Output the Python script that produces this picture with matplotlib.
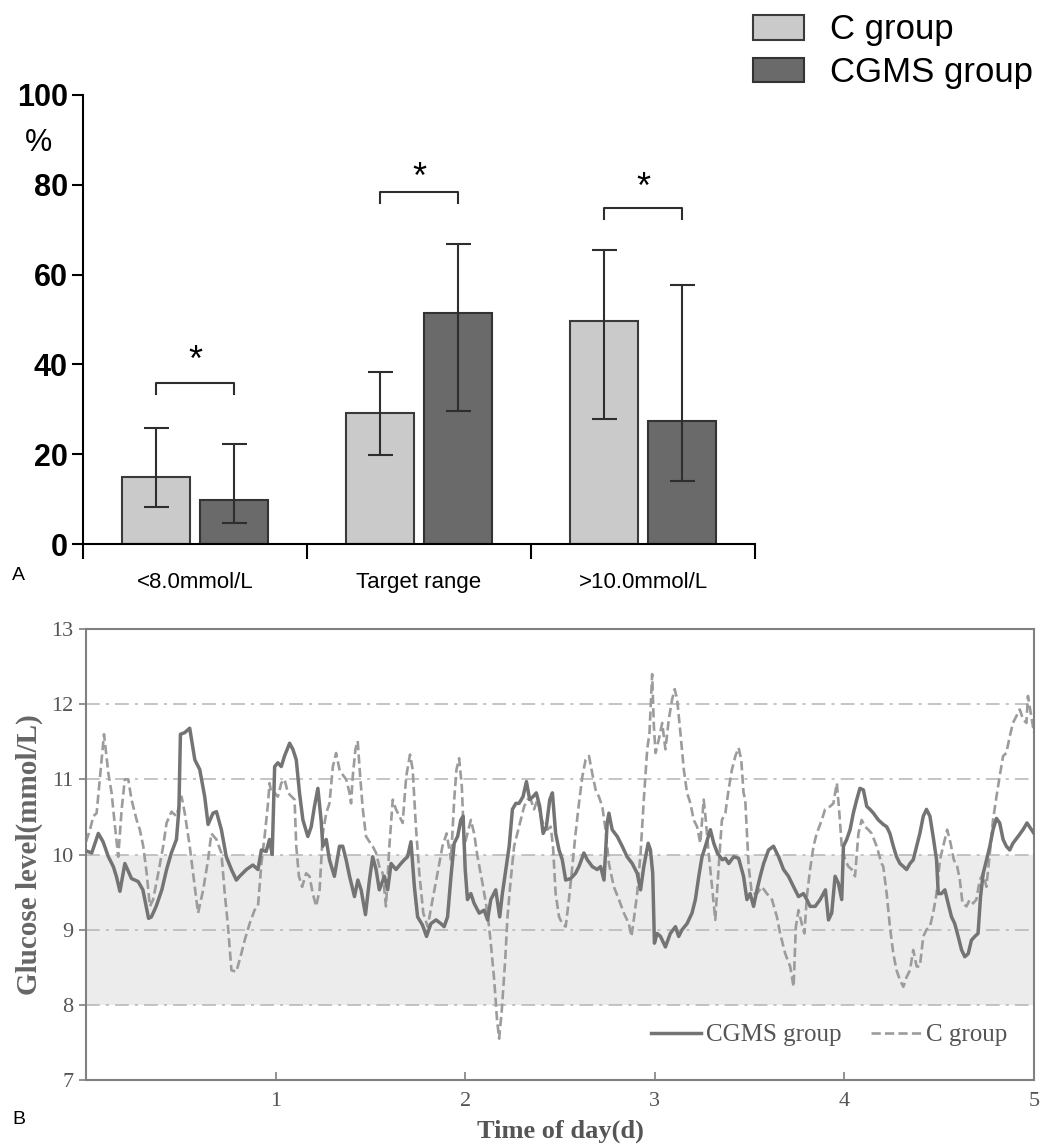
import numpy as np
import matplotlib
matplotlib.use('Agg')
import matplotlib.pyplot as plt
from matplotlib.patches import Patch
from matplotlib.lines import Line2D

# ---- panel A data (percent of time) ----
cats = ['<8.0mmol/L', 'Target range', '>10.0mmol/L']
c_mean = [14.9, 29.1, 49.7]
c_low = [8.3, 19.9, 27.9]
c_high = [25.9, 38.4, 65.4]
cgms_mean = [9.7, 51.4, 27.3]
cgms_low = [4.7, 29.7, 14.0]
cgms_high = [22.2, 66.9, 57.6]
bracket_y = [35.9, 78.3, 74.8]
star_y = [40.7, 81.4, 79.1]

# ---- panel B data (glucose, mmol/L) ----
cgms_day = [0, 0.03, 0.065, 0.09, 0.118, 0.144, 0.16, 0.179, 0.205, 0.24, 0.275, 0.30, 0.33, 0.345, 0.37, 0.40, 0.425, 0.45, 0.477, 0.49, 0.498, 0.52, 0.547, 0.574, 0.60, 0.626, 0.644, 0.67, 0.688, 0.714, 0.74, 0.767, 0.793,
            0.81, 0.846, 0.88, 0.907, 0.925, 0.95, 0.968, 0.982, 0.995, 1.012, 1.03, 1.047, 1.074, 1.091, 1.109, 1.126, 1.144, 1.17, 1.188, 1.205, 1.223, 1.24, 1.249, 1.267, 1.284, 1.31, 1.337, 1.354, 1.372, 1.39, 1.416, 1.434, 1.451, 1.474, 1.495, 1.512, 1.53, 1.547, 1.574, 1.591, 1.609, 1.635, 1.661,
            1.679, 1.696, 1.714, 1.732, 1.749, 1.775, 1.796, 1.819, 1.846, 1.872, 1.889, 1.907, 1.925, 1.942, 1.96, 1.977, 1.989, 2.0, 2.012, 2.03, 2.047, 2.074, 2.1, 2.118, 2.135, 2.161, 2.182, 2.196, 2.214, 2.232, 2.249, 2.267, 2.284, 2.305, 2.323, 2.34, 2.358, 2.375, 2.393, 2.411, 2.428, 2.446, 2.46, 2.477, 2.495, 2.512,
            2.53, 2.556, 2.582, 2.6, 2.626, 2.644, 2.67, 2.696, 2.714, 2.732, 2.749, 2.758, 2.775, 2.802, 2.828, 2.854, 2.881, 2.907, 2.925, 2.942, 2.965, 2.977, 2.989, 2.998, 3.012, 3.03, 3.056, 3.082, 3.109, 3.126, 3.144, 3.17, 3.196, 3.214, 3.232, 3.249, 3.267, 3.293, 3.311, 3.33, 3.356,
            3.372, 3.39, 3.416, 3.442, 3.468, 3.486, 3.503, 3.521, 3.539, 3.556, 3.574, 3.6, 3.626, 3.653, 3.679, 3.705, 3.732, 3.758, 3.784, 3.802, 3.819, 3.846, 3.872, 3.9, 3.916, 3.933, 3.951, 3.968, 3.986, 3.995, 4.012, 4.03, 4.047, 4.065, 4.082, 4.1, 4.118, 4.135, 4.153, 4.179, 4.205,
            4.223, 4.24, 4.258, 4.275, 4.293, 4.311, 4.328, 4.346, 4.363, 4.381, 4.398, 4.416, 4.433, 4.451, 4.468, 4.486, 4.495, 4.512, 4.53, 4.547, 4.565, 4.582, 4.6, 4.618, 4.635, 4.653, 4.67, 4.688, 4.705, 4.718, 4.732, 4.75, 4.767, 4.784, 4.802, 4.819, 4.837, 4.854, 4.872, 4.889, 4.916, 4.942, 4.963, 5.0]
cgms_glu = [10.05, 10.02, 10.28, 10.17, 9.97, 9.84, 9.71, 9.51, 9.88, 9.68, 9.64, 9.53, 9.15, 9.17, 9.31, 9.53, 9.80, 10.02, 10.20, 10.6, 11.6, 11.62, 11.68, 11.26, 11.13, 10.77, 10.40, 10.55, 10.57, 10.33, 9.97, 9.80, 9.66,
            9.71, 9.80, 9.86, 9.80, 10.06, 10.04, 10.20, 10.0, 11.17, 11.22, 11.17, 11.31, 11.48, 11.40, 11.26, 10.82, 10.46, 10.24, 10.37, 10.64, 10.88, 10.46, 10.11, 10.20, 9.93, 9.71, 10.11, 10.11, 9.93, 9.71, 9.44, 9.66, 9.53, 9.20, 9.66, 9.97, 9.80, 9.53, 9.71, 9.53, 9.88, 9.80, 9.88,
            9.93, 9.97, 10.17, 9.57, 9.17, 9.06, 8.91, 9.08, 9.13, 9.08, 9.04, 9.17, 9.71, 10.15, 10.24, 10.46, 10.51, 9.80, 9.40, 9.48, 9.35, 9.22, 9.26, 9.13, 9.40, 9.53, 9.17, 9.48, 9.80, 10.11, 10.60, 10.68, 10.68, 10.77, 10.97, 10.73, 10.77, 10.82, 10.64, 10.28, 10.37, 10.73, 10.82, 10.28, 10.06, 9.93,
            9.66, 9.68, 9.75, 9.84, 10.02, 9.93, 9.84, 9.80, 9.84, 9.66, 10.42, 10.55, 10.33, 10.24, 10.11, 9.97, 9.88, 9.75, 9.53, 9.84, 10.15, 10.06, 9.75, 8.82, 8.95, 8.91, 8.77, 8.95, 9.04, 8.91, 9.00, 9.08, 9.22, 9.40, 9.71, 9.97, 10.11, 10.33, 10.15, 10.02, 9.93,
            9.95, 9.88, 9.97, 9.95, 9.71, 9.40, 9.48, 9.31, 9.53, 9.71, 9.88, 10.06, 10.11, 9.97, 9.80, 9.71, 9.57, 9.44, 9.48, 9.40, 9.31, 9.31, 9.40, 9.53, 9.13, 9.22, 9.71, 9.62, 9.40, 10.11, 10.20, 10.33, 10.55, 10.73, 10.88, 10.86, 10.64, 10.60, 10.55, 10.46, 10.40,
            10.37, 10.28, 10.11, 9.97, 9.88, 9.84, 9.80, 9.88, 9.93, 10.11, 10.28, 10.51, 10.60, 10.51, 10.24, 9.93, 9.48, 9.48, 9.53, 9.35, 9.17, 9.08, 8.91, 8.73, 8.64, 8.68, 8.86, 8.91, 8.95, 9.44, 9.75, 9.93, 10.11, 10.33, 10.48, 10.42, 10.20, 10.11, 10.06, 10.15, 10.24, 10.33, 10.42, 10.28]

c_day = [0, 0.021, 0.039, 0.056, 0.074, 0.095, 0.118, 0.135, 0.153, 0.17, 0.188, 0.205, 0.223, 0.24, 0.267, 0.284, 0.302, 0.32, 0.337, 0.354, 0.381, 0.407, 0.425, 0.451, 0.477, 0.504, 0.521, 0.547, 0.574, 0.591, 0.618, 0.644, 0.661, 0.688, 0.714, 0.732, 0.749, 0.767, 0.793, 0.819, 0.837,
         0.863, 0.889, 0.907, 0.925, 0.942, 0.96, 0.968, 0.977, 0.995, 1.012, 1.03, 1.047, 1.065, 1.084, 1.1, 1.109, 1.123, 1.14, 1.161, 1.179, 1.196, 1.214, 1.232, 1.249, 1.267, 1.284, 1.302, 1.319, 1.337, 1.354, 1.372, 1.39, 1.398, 1.407, 1.421, 1.433, 1.446, 1.46, 1.477, 1.495, 1.512, 1.53, 1.547, 1.565, 1.582, 1.6, 1.618, 1.635, 1.653, 1.67,
         1.689, 1.709, 1.723, 1.74, 1.758, 1.779, 1.802, 1.828, 1.854, 1.88, 1.902, 1.925, 1.942, 1.954, 1.968, 1.982, 1.995, 2.012, 2.03, 2.047, 2.065, 2.091, 2.118, 2.135, 2.153, 2.168, 2.179, 2.193, 2.211, 2.223, 2.24, 2.258, 2.275, 2.293, 2.311, 2.328, 2.346, 2.363, 2.381, 2.398, 2.416, 2.433, 2.451, 2.463, 2.477, 2.495, 2.512,
         2.53, 2.547, 2.565, 2.582, 2.6, 2.618, 2.635, 2.653, 2.67, 2.688, 2.705, 2.723, 2.74, 2.758, 2.784, 2.811, 2.837, 2.863, 2.877, 2.889, 2.907, 2.925, 2.942, 2.96, 2.972, 2.986, 2.995, 3.004, 3.021, 3.039, 3.056, 3.074, 3.091, 3.105, 3.118, 3.135, 3.153, 3.17, 3.188, 3.205, 3.223, 3.24, 3.258, 3.267, 3.284, 3.302, 3.319, 3.337, 3.354,
         3.372, 3.389, 3.407, 3.425, 3.442, 3.456, 3.468, 3.477, 3.486, 3.495, 3.512, 3.539, 3.565, 3.591, 3.618, 3.644, 3.661, 3.688, 3.714, 3.732, 3.744, 3.758, 3.775, 3.789, 3.802, 3.819, 3.837, 3.854, 3.881, 3.898, 3.925, 3.942, 3.96, 3.972, 3.986, 4.004, 4.021, 4.039, 4.056, 4.074, 4.091, 4.109, 4.126, 4.144, 4.17, 4.196,
         4.205, 4.223, 4.24, 4.258, 4.275, 4.293, 4.311, 4.328, 4.346, 4.363, 4.381, 4.398, 4.416, 4.433, 4.451, 4.468, 4.486, 4.504, 4.521, 4.542, 4.56, 4.577, 4.595, 4.609, 4.623, 4.644, 4.661, 4.679, 4.696, 4.714, 4.732, 4.749, 4.767, 4.784, 4.802, 4.819, 4.837, 4.854, 4.872, 4.889, 4.907, 4.925, 4.942, 4.96, 4.968, 5.0]
c_glu = [10.17, 10.33, 10.51, 10.55, 11.04, 11.60, 11.08, 10.82, 10.37, 9.97, 10.60, 11.00, 11.00, 10.73, 10.46, 10.33, 10.11, 9.75, 9.31, 9.40, 9.75, 10.11, 10.42, 10.57, 10.51, 10.77, 10.55, 10.11, 9.57, 9.22, 9.53, 9.93, 10.28, 10.20, 10.02, 9.48, 9.04, 8.46, 8.44, 8.68, 8.86,
         9.08, 9.26, 9.31, 9.88, 10.24, 10.68, 10.95, 10.82, 10.82, 10.77, 10.95, 11.00, 10.82, 10.77, 10.73, 10.11, 9.71, 9.57, 9.75, 9.71, 9.48, 9.31, 9.53, 10.28, 10.55, 10.68, 11.17, 11.35, 11.13, 11.06, 11.00, 10.82, 10.68, 11.04, 11.40, 11.51, 11.04, 10.60, 10.24, 10.17, 10.11, 10.02, 9.84, 9.75, 9.31, 10.11, 10.73, 10.60, 10.51, 10.42,
         11.04, 11.33, 11.13, 10.37, 9.75, 9.22, 9.04, 9.40, 9.75, 10.11, 10.28, 9.93, 10.73, 11.13, 11.28, 10.91, 10.11, 10.28, 10.46, 10.28, 9.97, 9.62, 9.22, 8.82, 8.33, 7.80, 7.55, 7.93, 8.60, 9.17, 9.66, 10.11, 10.28, 10.46, 10.64, 10.73, 10.73, 10.60, 10.73, 10.51, 10.37, 10.33, 10.37, 10.11, 9.48, 9.17, 9.08,
         9.04, 9.40, 9.84, 10.28, 10.68, 11.04, 11.26, 11.31, 11.08, 10.86, 10.77, 10.64, 10.33, 9.88, 9.57, 9.40, 9.22, 9.08, 8.91, 9.13, 9.48, 10.02, 10.73, 11.40, 11.62, 12.40, 11.71, 11.35, 11.53, 11.75, 11.40, 11.80, 12.06, 12.20, 12.06, 11.62, 11.13, 10.82, 10.68, 10.46, 10.37, 10.15, 10.73, 10.51, 10.02, 9.57, 9.13, 9.84, 10.46,
         10.55, 10.86, 11.13, 11.31, 11.42, 11.26, 10.82, 10.73, 10.28, 9.84, 9.48, 9.48, 9.57, 9.48, 9.40, 9.17, 8.95, 8.68, 8.51, 8.24, 9.04, 9.26, 9.08, 8.95, 9.44, 9.80, 10.11, 10.28, 10.46, 10.60, 10.64, 10.68, 10.95, 10.60, 10.11, 9.93, 9.84, 9.80, 9.71, 10.28, 10.46, 10.37, 10.33, 10.28, 10.11, 9.88,
         9.84, 9.48, 9.04, 8.68, 8.46, 8.33, 8.24, 8.37, 8.46, 8.73, 8.51, 8.51, 8.91, 9.00, 9.04, 9.22, 9.48, 9.93, 10.11, 10.33, 10.15, 9.93, 9.84, 9.66, 9.35, 9.31, 9.40, 9.35, 9.40, 9.66, 9.75, 9.57, 10.02, 10.46, 10.77, 11.04, 11.31, 11.35, 11.57, 11.75, 11.84, 11.93, 11.80, 11.75, 12.11, 11.62]

W, H = 1043, 1147
fig = plt.figure(figsize=(W / 100, H / 100), dpi=100)

# ================= panel A =================
sans = 'Liberation Sans'
axA = fig.add_axes([83 / W, 1 - 544 / H, 672 / W, 449 / H])
x = np.arange(len(cats))
off, bw = 0.174, 0.305
ekw = dict(ecolor='#2e2e2e', elinewidth=1.5, capsize=9, capthick=1.5)
axA.bar(x - off, c_mean, bw, color='#cacaca', edgecolor='#3a3a3a', lw=1.5,
        yerr=[np.subtract(c_mean, c_low), np.subtract(c_high, c_mean)], error_kw=ekw)
axA.bar(x + off, cgms_mean, bw, color='#6a6a6a', edgecolor='#333333', lw=1.5,
        yerr=[np.subtract(cgms_mean, cgms_low), np.subtract(cgms_high, cgms_mean)], error_kw=ekw)

# significance brackets with stars above them
for i in range(len(cats)):
    yb = bracket_y[i]
    axA.plot([i - off, i - off, i + off, i + off], [yb - 2.4, yb, yb, yb - 2.4],
             color='#2e2e2e', lw=1.5, clip_on=False)
    axA.text(i, star_y[i], '*', ha='center', va='center', fontsize=26, family=sans)
    axA.text(i, -8.6, cats[i], ha='center', va='center', fontsize=16, family=sans)

axA.set_xlim(-0.5, 2.5)
axA.set_ylim(0, 100)
axA.spines['top'].set_visible(False)
axA.spines['right'].set_visible(False)
for s in ['left', 'bottom']:
    axA.spines[s].set_linewidth(1.5)
axA.set_xticks([-0.5, 0.5, 1.5, 2.5])
axA.set_xticklabels([])
axA.tick_params(axis='x', direction='out', length=11, width=1.5)
axA.set_yticks(range(0, 101, 20))
axA.set_yticklabels([str(v) for v in range(0, 101, 20)], fontsize=22,
                    fontweight='bold', family=sans)
axA.tick_params(axis='y', direction='out', length=8, width=1.5, pad=3)
fig.text(38 / W, 1 - 143 / H, '%', fontsize=22, family=sans, ha='center', va='center')

fig.legend(handles=[Patch(fc='#cacaca', ec='#3a3a3a', lw=1.5),
                    Patch(fc='#6a6a6a', ec='#333333', lw=1.5)],
           labels=['C group', 'CGMS group'], loc='upper left',
           bbox_to_anchor=(736 / W, 1 + 4 / H), frameon=False,
           prop={'family': sans, 'size': 25}, handlelength=1.45, handleheight=0.72,
           handletextpad=0.75, labelspacing=0.28, borderpad=0)

fig.text(12 / W, 1 - 575 / H, 'A', fontsize=14, family=sans, va='center')

# ================= panel B =================
serif = 'Liberation Serif'
gray = '#808080'
axB = fig.add_axes([86 / W, 1 - 1080 / H, 948 / W, 451 / H])
axB.axhspan(8, 10, color='#ececec', lw=0, zorder=0)
for g in [8, 9, 10, 11, 12]:
    axB.axhline(g, color='#b4b4b4', lw=1.1, ls=(0, (9, 4, 2, 4)), zorder=1)
axB.plot(cgms_day, cgms_glu, color='#747474', lw=2.5, zorder=3)
axB.plot(c_day, c_glu, color='#9c9c9c', lw=1.9, ls=(0, (3.5, 1.6)), zorder=2)

axB.set_xlim(0, 5)
axB.set_ylim(7, 13)
for s in axB.spines.values():
    s.set_color(gray)
    s.set_linewidth(1.5)
axB.set_xticks([1, 2, 3, 4, 5])
axB.set_xticklabels(['1', '2', '3', '4', '5'], fontsize=16, family=serif, color='#555555')
axB.tick_params(axis='x', direction='in', length=6, width=1.2, color=gray, pad=9)
axB.set_yticks(range(7, 14))
axB.set_yticklabels([str(v) for v in range(7, 14)], fontsize=16, family=serif, color='#555555')
axB.tick_params(axis='y', direction='out', length=5, width=1.2, color=gray, pad=4)
axB.set_xlabel('Time of day(d)', fontsize=19, fontweight='bold', family=serif,
               color='#555555', labelpad=6)
axB.set_ylabel('Glucose level(mmol/L)', fontsize=21, fontweight='bold', family=serif,
               color='#666666', labelpad=6)

axB.legend(handles=[Line2D([], [], color='#747474', lw=2.5),
                    Line2D([], [], color='#9c9c9c', lw=1.9, ls=(0, (3.5, 1.6)))],
           labels=['CGMS group', 'C group'], ncol=2, loc='center right',
           bbox_to_anchor=(1020 / W, 1 - 1035 / H), bbox_transform=fig.transFigure,
           frameon=False, prop={'family': serif, 'size': 18}, handlelength=2.0,
           handletextpad=0.2, columnspacing=1.2, borderpad=0, labelcolor='#555555')

fig.text(12 / W, 1 - 1120 / H, 'B', fontsize=14, family=sans, va='center')

fig.savefig('out.png', dpi=100)
